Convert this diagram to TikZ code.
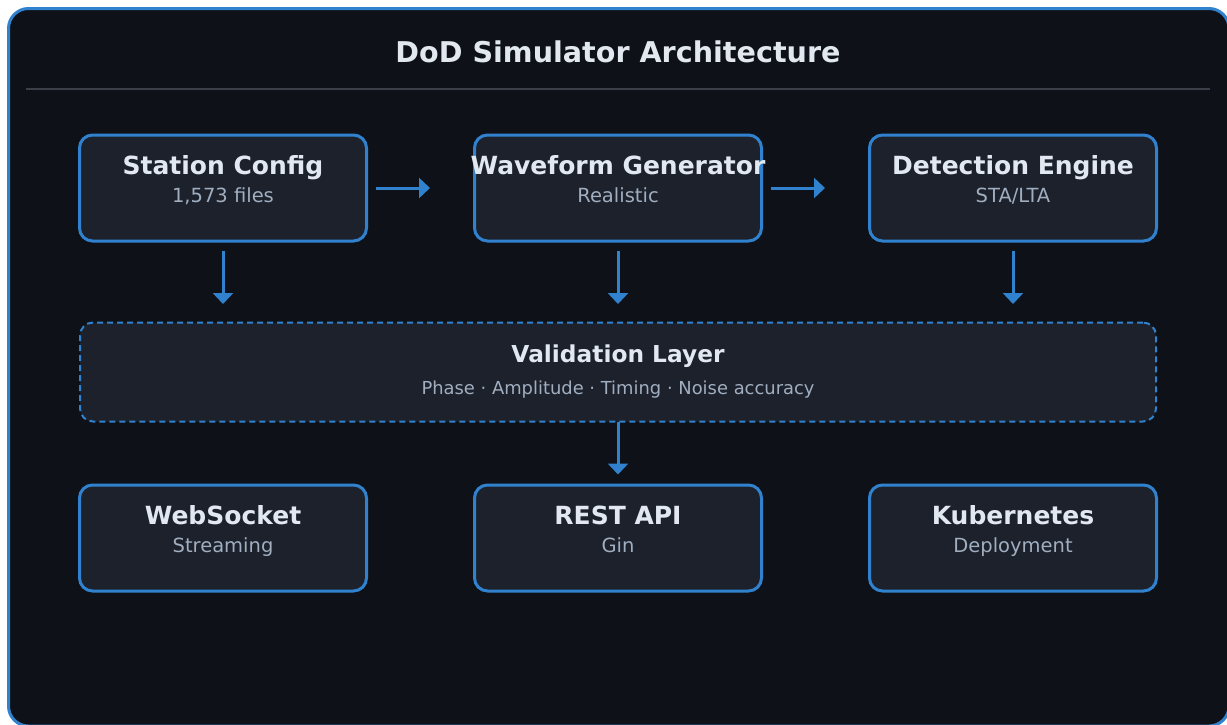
\documentclass[tikz,border=0pt]{standalone}
\usepackage{fontspec}
\setmainfont{DejaVu Sans}
\usetikzlibrary{arrows.meta}

\definecolor{pagebg}{HTML}{0E1118}
\definecolor{boxfill}{HTML}{1C212C}
\definecolor{accent}{HTML}{3182CE}
\definecolor{headtext}{HTML}{E2E8F0}
\definecolor{subtext}{HTML}{A0AEC0}
\definecolor{rule}{HTML}{3A3F4A}

\tikzset{
  x=1pt, y=-1pt,
  stagebox/.style={draw=accent, line width=3pt, fill=boxfill, rounded corners=13pt,
    minimum width=287pt, minimum height=106pt, inner sep=0pt, outer sep=0pt},
  layerbox/.style={draw=accent, line width=2pt, fill=boxfill, rounded corners=13pt,
    dash pattern=on 6pt off 4pt, minimum width=1076pt, minimum height=99pt,
    inner sep=0pt, outer sep=0pt},
  boxtitle/.style={anchor=base, inner sep=0pt, text=headtext,
    font=\fontsize{25}{30}\selectfont\bfseries},
  boxsub/.style={anchor=base, inner sep=0pt, text=subtext,
    font=\fontsize{19.5}{23}\selectfont},
  flow/.style={draw=accent, line width=3pt,
    -{Triangle[length=11pt, width=20pt]}},
}

\begin{document}
\begin{tikzpicture}
  \useasboundingbox (0,0) rectangle (1227,724);
  \fill[white] (0,0) rectangle (1227,724);

  % outer frame, running past the right and bottom edges of the page
  \begin{scope}
    \clip (0,0) rectangle (1227,724);
    \draw[accent, line width=3pt, fill=pagebg, rounded corners=20pt]
      (8.5,8.5) rectangle (1229,726);
  \end{scope}

  % heading and rule
  \node[anchor=base, inner sep=0pt, text=headtext,
        font=\fontsize{28.6}{34}\selectfont\bfseries] (heading) at (618,62.4)
        {DoD Simulator Architecture};
  \coordinate (ruleL) at (26,89);
  \coordinate (ruleR) at (1210,89);
  \draw[rule, line width=2pt] (ruleL) -- (ruleR);

  % upper row
  \node[stagebox] (sc) at (223,188) {};
  \node[stagebox] (wg) at (618,188) {};
  \node[stagebox] (de) at (1013,188) {};
  \node[boxtitle] (scT) at (223,174.3) {Station Config};
  \node[boxsub]   (scS) at (223,202.2) {1,573 files};
  \node[boxtitle] (wgT) at (618,174.3) {Waveform Generator};
  \node[boxsub]   (wgS) at (618,202.2) {Realistic};
  \node[boxtitle] (deT) at (1013,174.3) {Detection Engine};
  \node[boxsub]   (deS) at (1013,202.2) {STA/LTA};

  % validation layer
  \node[layerbox] (val) at (618,372) {};
  \node[anchor=base, inner sep=0pt, text=headtext,
        font=\fontsize{23.3}{28}\selectfont\bfseries] (valT) at (618,362.3)
        {Validation Layer};
  \node[anchor=base, inner sep=0pt, text=subtext,
        font=\fontsize{17.9}{22}\selectfont] (valS) at (618,394.3)
        {Phase · Amplitude · Timing · Noise accuracy};

  % lower row
  \node[stagebox] (ws) at (223,538) {};
  \node[stagebox] (ra) at (618,538) {};
  \node[stagebox] (k8) at (1013,538) {};
  \node[boxtitle] (wsT) at (223,524.3) {WebSocket};
  \node[boxsub]   (wsS) at (223,552.2) {Streaming};
  \node[boxtitle] (raT) at (618,524.3) {REST API};
  \node[boxsub]   (raS) at (618,552.2) {Gin};
  \node[boxtitle] (k8T) at (1013,524.3) {Kubernetes};
  \node[boxsub]   (k8S) at (1013,552.2) {Deployment};

  % connectors
  \draw[flow, shorten <=9.5pt, shorten >=44.5pt] (sc.east) -- (wg.west);
  \draw[flow, shorten <=9.5pt, shorten >=44.5pt] (wg.east) -- (de.west);
  \draw[flow, shorten <=9.5pt, shorten >=18.5pt] (sc.south) -- (sc.south |- val.north);
  \draw[flow, shorten <=9.5pt, shorten >=18.5pt] (wg.south) -- (val.north);
  \draw[flow, shorten <=9.5pt, shorten >=18.5pt] (de.south) -- (de.south |- val.north);
  \draw[flow, shorten >=10.5pt] (val.south) -- (ra.north);
\end{tikzpicture}
\end{document}
